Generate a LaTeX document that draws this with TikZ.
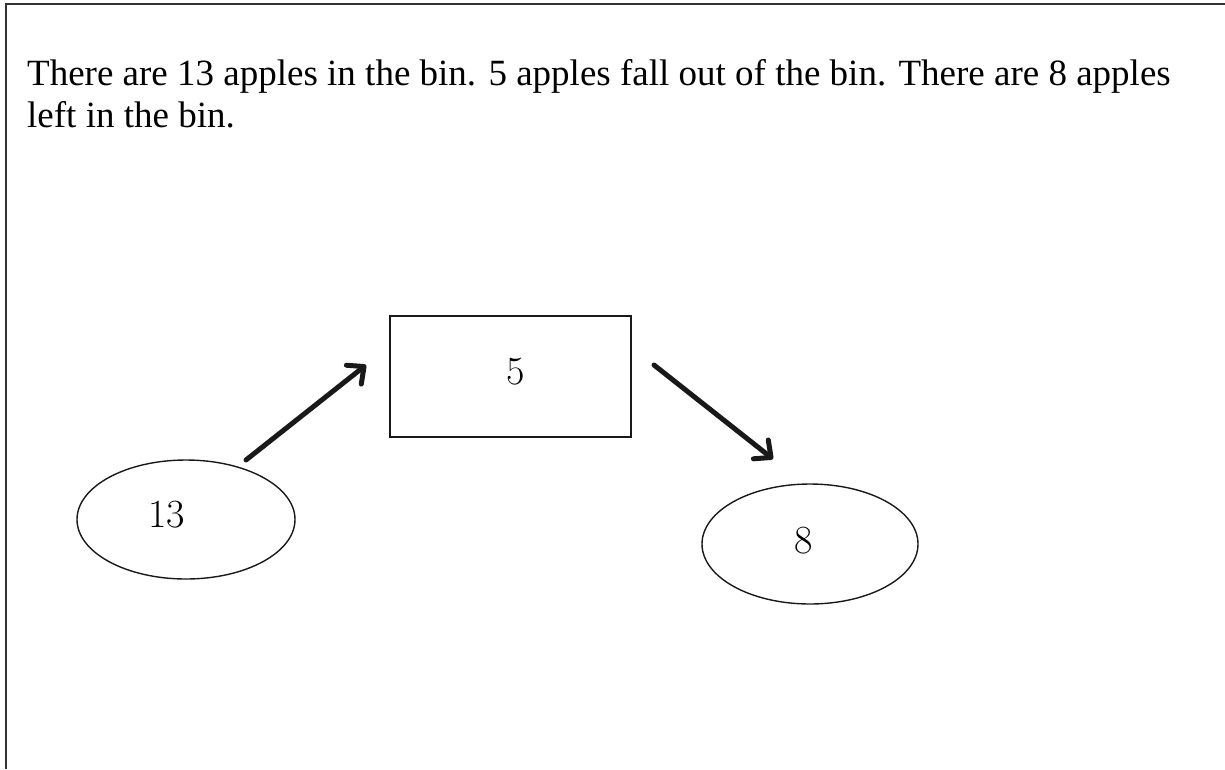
\documentclass[tikz,border=0pt]{standalone}
\usepackage{fontspec}
\usetikzlibrary{shapes.geometric,arrows.meta}
\newfontfamily\storyfont{Liberation Serif}
\begin{document}
\begin{tikzpicture}[x=1pt,y=-1pt,
  frameline/.style={line width=2pt,draw=black!80},
  shapeline/.style={line width=1.4pt,draw=black!90},
  oval/.style={ellipse,shapeline,inner sep=0pt},
  numtext/.style={font=\fontsize{40}{44}\selectfont\addfontfeatures{FakeBold=0.6},inner sep=0pt},
  flow/.style={line width=5pt,line cap=round,black!90,
    -{Straight Barb[length=13pt,width=24pt,line width=5pt,round]}}]
  \useasboundingbox (0,0) rectangle (1225,769);
  % open frame: top edge and left edge only
  \draw[frameline] (6,769) -- (6,4) -- (1225,4);
  % the word problem (base anchor sits on the last line)
  \node[anchor=base west,inner sep=0pt,align=left,
        font=\storyfont\fontsize{37}{42}\selectfont] (story) at (27,127.7)
    {There are 13 apples in the bin. 5 apples fall out of the bin. There are 8 apples\\
     left in the bin.};
  % whole, part and rest
  \node[oval,minimum width=218pt,minimum height=119pt] (whole) at (186,519.5) {};
  \node[numtext] (wholenum) at (166.5,515) {13};
  \node[shapeline,draw,minimum width=241pt,minimum height=121pt,inner sep=0pt] (part) at (510.5,376.5) {};
  \node[numtext] (partnum) at (515.5,372) {5};
  \node[oval,minimum width=216pt,minimum height=120pt] (rest) at (810,544) {};
  \node[numtext] (restnum) at (803.5,540.5) {8};
  % arrow ends
  \coordinate (wholeout) at (246,460);
  \coordinate (partin) at (366,365);
  \coordinate (partout) at (654,365);
  \coordinate (restin) at (773,459);
  \draw[flow] (wholeout) -- (partin);
  \draw[flow] (partout) -- (restin);
\end{tikzpicture}
\end{document}
